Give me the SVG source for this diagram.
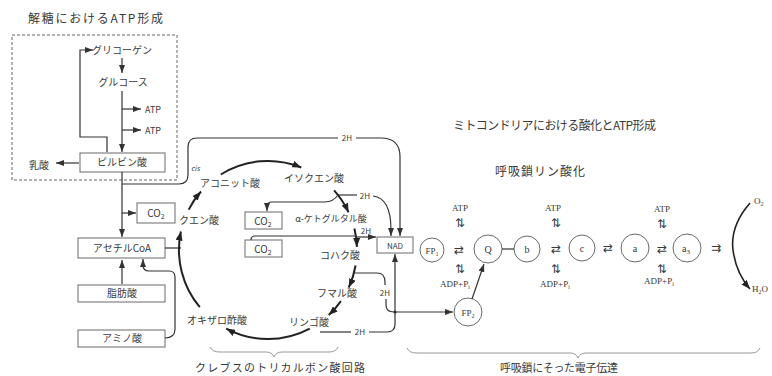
<svg xmlns="http://www.w3.org/2000/svg" width="772" height="376" viewBox="0 0 772 376">
<defs>
<style>
text{font-family:"Noto Sans CJK JP","Noto Sans",sans-serif;fill:#3a3a3a;font-size:10px}
.t{font-size:12px}
.s{font-size:8px}
.ser{font-family:"Liberation Serif","Noto Sans CJK JP",serif;font-size:10px}
.sym{font-family:"DejaVu Sans",sans-serif;font-size:12px}
.c{text-anchor:middle}
.box{fill:none;stroke:#6a6a6a;stroke-width:1}
.circ{fill:none;stroke:#6a6a6a;stroke-width:1}
.ln{fill:none;stroke:#333;stroke-width:1.2}
.cyc{fill:none;stroke:#222;stroke-width:2}
.br{fill:none;stroke:#999;stroke-width:1}
</style>
<marker id="ah" viewBox="0 0 8 6" refX="8" refY="3" markerWidth="8" markerHeight="6" markerUnits="userSpaceOnUse" orient="auto"><path d="M0,0 L8,3 L0,6 z" fill="#333"/></marker>
<marker id="ahc" viewBox="0 0 9 7" refX="9" refY="3.5" markerWidth="9" markerHeight="7" markerUnits="userSpaceOnUse" orient="auto"><path d="M0,0 L9,3.5 L0,7 z" fill="#222"/></marker>
</defs>
<rect width="772" height="376" fill="#fff"/>

<g id="titles">
<text class="t" x="28" y="23" textLength="135" lengthAdjust="spacing">解糖におけるATP形成</text>
<text class="t" x="453" y="130" textLength="203" lengthAdjust="spacing">ミトコンドリアにおける酸化とATP形成</text>
<text class="t" x="495" y="176" textLength="90" lengthAdjust="spacing">呼吸鎖リン酸化</text>
<text x="195" y="372" style="font-size:11px" textLength="170" lengthAdjust="spacing">クレブスのトリカルボン酸回路</text>
<text x="500" y="372" style="font-size:11px" textLength="118" lengthAdjust="spacing">呼吸鎖にそった電子伝達</text>
</g>

<g id="glycolysis-frame"><rect x="12" y="35" width="165" height="145" fill="none" stroke="#666" stroke-width="1" stroke-dasharray="3,2"/></g>

<g id="glycogen"><text class="c" x="122" y="54">グリコーゲン</text></g>
<g id="glucose"><text class="c" x="123" y="86">グルコース</text></g>
<g id="atp1"><text x="145" y="113" style="font-size:9px">ATP</text></g>
<g id="atp2"><text x="145" y="134" style="font-size:9px">ATP</text></g>
<g id="pyruvate"><rect class="box" x="80" y="153" width="85" height="19"/><text class="c" x="122" y="166">ピルビン酸</text></g>
<g id="lactate"><text class="c" x="39" y="169">乳酸</text></g>
<g id="co2-a"><rect class="box" x="137" y="203" width="38" height="20"/><text class="c" x="156" y="217">CO<tspan font-size="7" dy="2">2</tspan></text></g>
<g id="acetylcoa"><rect class="box" x="78" y="238" width="87" height="20"/><text class="c" x="122" y="252">アセチルCoA</text></g>
<g id="fattyacid"><rect class="box" x="78" y="285" width="87" height="17"/><text class="c" x="122" y="297">脂肪酸</text></g>
<g id="aminoacid"><rect class="box" x="78" y="330" width="87" height="17"/><text class="c" x="122" y="342">アミノ酸</text></g>

<g id="citrate"><text class="c" x="199" y="224">クエン酸</text></g>
<g id="cis-aconitate"><text x="191" y="171" style="font-size:7px;font-style:italic">cis</text><text class="c" x="230" y="187">アコニット酸</text></g>
<g id="isocitrate"><text class="c" x="314" y="182">イソクエン酸</text></g>
<g id="akg"><text class="c" x="331" y="222" style="font-size:9px">α-ケトグルタル酸</text></g>
<g id="succinate"><text class="c" x="340" y="259">コハク酸</text></g>
<g id="fumarate"><text class="c" x="337" y="297">フマル酸</text></g>
<g id="malate"><text class="c" x="309" y="326">リンゴ酸</text></g>
<g id="oxaloacetate"><text class="c" x="217" y="324">オキザロ酢酸</text></g>
<g id="co2-b"><rect class="box" x="245" y="212" width="37" height="17"/><text class="c" x="263" y="225">CO<tspan font-size="7" dy="2">2</tspan></text></g>
<g id="co2-c"><rect class="box" x="245" y="240" width="37" height="17"/><text class="c" x="263" y="253">CO<tspan font-size="7" dy="2">2</tspan></text></g>

<g id="h-labels">
<text class="s c" x="347" y="141">2H</text>
<text class="s c" x="365" y="199">2H</text>
<text class="s c" x="366" y="234">2H</text>
<text class="s c" x="385" y="296">2H</text>
<text class="s c" x="360" y="335">2H</text>
</g>

<g id="nad"><rect class="box" x="377" y="237" width="36" height="16"/><text class="c" x="395" y="248.5" style="font-size:8px">NAD</text></g>
<g id="fp1"><circle class="circ" cx="432" cy="250" r="12"/><text class="ser c" x="432" y="254" style="font-size:9px">FP<tspan font-size="6" dy="2">1</tspan></text></g>
<g id="fp2"><circle class="circ" cx="468" cy="312" r="14"/><text class="ser c" x="468" y="316" style="font-size:9px">FP<tspan font-size="6" dy="2">2</tspan></text></g>
<g id="q"><circle class="circ" cx="488" cy="249" r="14"/><text class="ser c" x="488" y="253">Q</text></g>
<g id="b"><circle class="circ" cx="527" cy="249" r="13"/><text class="ser c" x="527" y="253">b</text></g>
<g id="c"><circle class="circ" cx="582" cy="248" r="13"/><text class="ser c" x="582" y="252">c</text></g>
<g id="a"><circle class="circ" cx="635" cy="248" r="14"/><text class="ser c" x="635" y="252">a</text></g>
<g id="a3"><circle class="circ" cx="687" cy="248" r="14"/><text class="ser c" x="686" y="252">a<tspan font-size="7" dy="2">3</tspan></text></g>
<g id="o2"><text class="ser" x="754" y="204" style="font-size:9px">O<tspan font-size="6" dy="2">2</tspan></text></g>
<g id="h2o"><text class="ser" x="752" y="292" style="font-size:9px">H<tspan font-size="6" dy="2">2</tspan><tspan dy="-2">O</tspan></text></g>

<g id="site1">
<text class="ser c" x="460" y="211" style="font-size:9px">ATP</text>
<text class="sym c" x="460" y="227">⇅</text>
<text class="sym c" x="459" y="254">⇄</text>
<text class="sym c" x="460" y="273">⇅</text>
<text class="ser c" x="455" y="287" style="font-size:9px">ADP+P<tspan font-size="6" dy="2">i</tspan></text>
</g>
<g id="site2">
<text class="ser c" x="553" y="211" style="font-size:9px">ATP</text>
<text class="sym c" x="556" y="227">⇅</text>
<text class="sym c" x="556" y="253">⇄</text>
<text class="sym c" x="556" y="273">⇅</text>
<text class="ser c" x="555" y="287" style="font-size:9px">ADP+P<tspan font-size="6" dy="2">i</tspan></text>
</g>
<g id="site3">
<text class="ser c" x="662" y="212" style="font-size:9px">ATP</text>
<text class="sym c" x="662" y="228">⇅</text>
<text class="sym c" x="662" y="253">⇄</text>
<text class="sym c" x="662" y="273">⇅</text>
<text class="ser c" x="659" y="284" style="font-size:9px">ADP+P<tspan font-size="6" dy="2">i</tspan></text>
</g>
<g id="eq-ca"><text class="sym c" x="608" y="252">⇄</text></g>
<g id="eq-a3"><text class="sym c" x="716" y="252">⇉</text></g>

<g id="connectors">
<path class="ln" d="M122,58 V73" marker-end="url(#ah)"/>
<path class="ln" d="M122,91 V152" marker-end="url(#ah)"/>
<path class="ln" d="M122,109 H141" marker-end="url(#ah)"/>
<path class="ln" d="M122,130 H141" marker-end="url(#ah)"/>
<path class="ln" d="M107,152 V137 H80 V50 H93" marker-end="url(#ah)"/>
<path class="ln" d="M79,163 H56" marker-end="url(#ah)"/>
<path class="ln" d="M122,172 V237" marker-end="url(#ah)"/>
<path class="ln" d="M122,213 H136" marker-end="url(#ah)"/>
<path class="ln" d="M122,284 V260" marker-end="url(#ah)"/>
<path class="ln" d="M165,338 Q175,338 175,329 V277 Q175,271 169,271 H149 Q143,271 143,265 V259" marker-end="url(#ah)"/>
<path class="ln" d="M165,248 H181"/>
<path class="ln" d="M122,184 H179 Q188,184 188,175 V147 Q188,138 197,138 H338"/>
<path class="ln" d="M356,138 H381 Q400,138 400,157 V236" marker-end="url(#ah)"/>
<path class="cyc" d="M199.8,307.2 A89,89 0 0 1 180.9,231.5" marker-end="url(#ahc)"/>
<path class="cyc" d="M188.7,209.6 A89,89 0 0 1 201,191.5" marker-end="url(#ahc)"/>
<path class="cyc" d="M220.8,174.5 A89,89 0 0 1 301.3,167.5" marker-end="url(#ahc)"/>
<path class="cyc" d="M334.1,190.4 A89,89 0 0 1 348.6,212.4" marker-end="url(#ahc)"/>
<path class="cyc" d="M354.4,228.5 A89,89 0 0 1 356.9,246.9" marker-end="url(#ahc)"/>
<path class="cyc" d="M355.6,265.5 A89,89 0 0 1 348.7,287.6" marker-end="url(#ahc)"/>
<path class="cyc" d="M340.9,301.1 A89,89 0 0 1 328.7,315.1" marker-end="url(#ahc)"/>
<path class="cyc" d="M309.8,328.6 A89,89 0 0 1 226.2,328.6" marker-end="url(#ahc)"/>
<path class="ln" d="M338,195 H357"/>
<path class="ln" d="M373,196 Q391,198 391,230 V236" marker-end="url(#ah)"/>
<path class="ln" d="M338,195 Q333,202 325,202 H272 Q267,202 267,206 V211" marker-end="url(#ah)"/>
<path class="ln" d="M356,237 H376" marker-end="url(#ah)"/>
<path class="ln" d="M356,236 H255 Q251,236 251,240"/>
<path class="ln" d="M354,273 H377 Q385,273 385,282 V285"/>
<path class="ln" d="M386,299 V305 Q386,312 394,312 H453" marker-end="url(#ah)"/>
<circle cx="395" cy="312" r="1.6" fill="#333"/>
<path class="ln" d="M320,332 H351"/>
<path class="ln" d="M369,332 H387 Q395,332 395,324 V254" marker-end="url(#ah)"/>
<path class="ln" d="M472,299 L484,264" marker-end="url(#ah)"/>
<path class="ln" d="M502,249 H514"/>
<path class="cyc" style="stroke-width:1.6" d="M750,203 Q730,226 733,250 Q736,273 750,289" marker-end="url(#ahc)"/>
</g>

<g id="braces">
<path class="br" d="M210,347 Q212,352 220,352 H266 Q272,352 274,357 Q276,352 282,352 H329 Q336,352 338,347"/>
<path class="br" d="M407,348 Q409,353 417,353 H570 Q576,353 578,358 Q580,353 586,353 H751 Q758,353 760,348"/>
</g>
</svg>
